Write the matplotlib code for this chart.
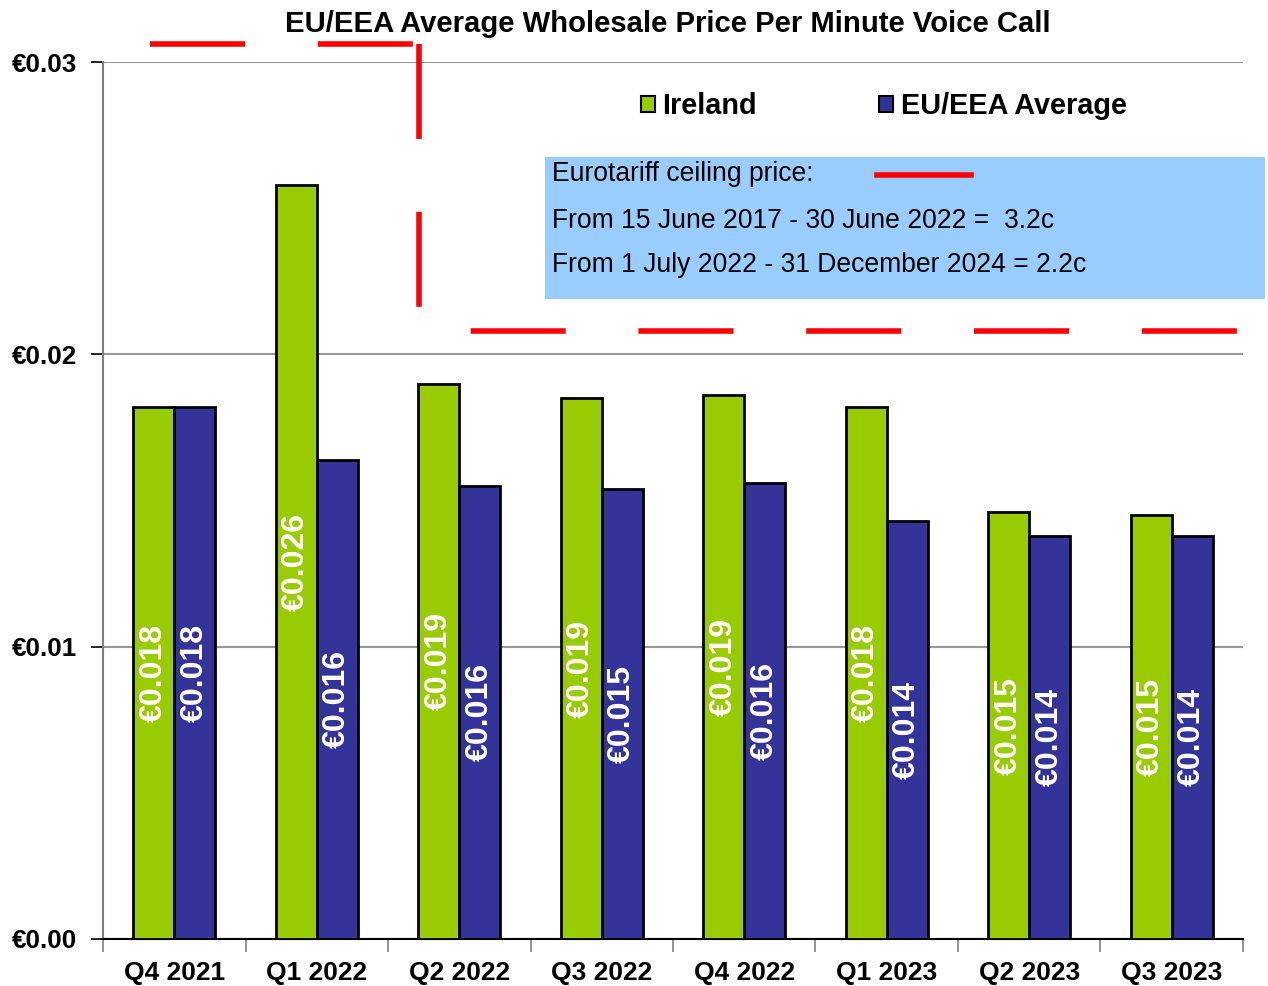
import matplotlib
matplotlib.use('Agg')
import matplotlib.pyplot as plt
import numpy as np
from matplotlib.patches import Rectangle

# data
quarters = ['Q4 2021', 'Q1 2022', 'Q2 2022', 'Q3 2022', 'Q4 2022', 'Q1 2023', 'Q2 2023', 'Q3 2023']
ireland = [0.0182, 0.0258, 0.0190, 0.0185, 0.0186, 0.0182, 0.0146, 0.0145]
eu_avg = [0.0182, 0.0164, 0.0155, 0.0154, 0.0156, 0.0143, 0.0138, 0.0138]
ireland_labels = ['€0.018', '€0.026', '€0.019', '€0.019', '€0.019', '€0.018', '€0.015', '€0.015']
eu_labels = ['€0.018', '€0.016', '€0.016', '€0.015', '€0.016', '€0.014', '€0.014', '€0.014']
# eurotariff ceiling line as drawn on the chart
ceil_old_x = [-0.17, 1.68]
ceil_old_y = 0.0306
ceil_step_x = 1.72
ceil_new_x = [1.72, 7.47]
ceil_new_y = 0.0208
y_ticks = [0.0, 0.01, 0.02, 0.03]
y_labels = ['€0.00', '€0.01', '€0.02', '€0.03']

plt.rcParams['font.family'] = ['Liberation Sans', 'DejaVu Sans']

green = '#99cc00'
blue = '#333399'

fig = plt.figure(figsize=(12.68, 9.86), dpi=100)
ax = fig.add_axes([103/1268, 1-939/986, 1140/1268, (939-62)/986])

x = np.arange(len(quarters))
w = 0.288
b1 = ax.bar(x - w/2, ireland, w, color=green, edgecolor='black', linewidth=2, zorder=3)
b2 = ax.bar(x + w/2, eu_avg, w, color=blue, edgecolor='black', linewidth=2, zorder=3)

for bars, vals, labs in ((b1, ireland, ireland_labels), (b2, eu_avg, eu_labels)):
    for r, v, lab in zip(bars, vals, labs):
        ax.text(r.get_x() + r.get_width()/2, v/2, lab, rotation=90,
                ha='center', va='center', color='white', fontsize=23,
                fontweight='bold', zorder=4)

ax.set_xlim(-0.5, len(quarters) - 0.5)
ax.set_ylim(0, 0.03)
ax.set_yticks(y_ticks)
ax.set_yticklabels(y_labels, fontsize=18.8, fontweight='bold')
ax.set_xticks(x)
ax.set_xticklabels(quarters, fontsize=19, fontweight='bold')
ax.tick_params(axis='x', length=0, pad=15.5)
ax.tick_params(axis='y', length=9, width=1.2, color='black', pad=9.5)
ax.set_xticks(np.arange(-0.5, len(quarters)), minor=True)
ax.tick_params(axis='x', which='minor', length=9, width=1.2, color='#808080')

ax.yaxis.grid(True, color='#999999', linewidth=1.5, zorder=0)
ax.set_axisbelow(True)
for s in ('top', 'right'):
    ax.spines[s].set_visible(False)
ax.spines['left'].set_color('#808080')
ax.spines['left'].set_linewidth(1.5)
ax.spines['bottom'].set_color('black')
ax.spines['bottom'].set_linewidth(1.5)

lw = 4
ax.plot(ceil_old_x, [ceil_old_y, ceil_old_y], color='red', linewidth=lw,
        linestyle=(0, (17.1, 13.1)), dash_capstyle='butt', clip_on=False, zorder=5)
ax.plot([ceil_step_x, ceil_step_x], [ceil_old_y, ceil_new_y], color='red', linewidth=lw,
        linestyle=(0, (17.1, 13.1)), dash_capstyle='butt', clip_on=False, zorder=5)
ax.plot(ceil_new_x, [ceil_new_y, ceil_new_y], color='red', linewidth=lw,
        linestyle=(20.9, (17.1, 13.1)), dash_capstyle='butt', clip_on=False, zorder=5)

fig.text(668/1268, 1-24/986, 'EU/EEA Average Wholesale Price Per Minute Voice Call',
         ha='center', va='center', fontsize=21.1, fontweight='bold')

# legend
fig.patches.append(Rectangle((641/1268, 1-112/986), 14/1268, 16/986, transform=fig.transFigure,
                             facecolor=green, edgecolor='black', linewidth=1.5))
fig.text(662/1268, 1-106/986, 'Ireland', ha='left', va='center', fontsize=20.8, fontweight='bold')
fig.patches.append(Rectangle((879/1268, 1-112/986), 14/1268, 16/986, transform=fig.transFigure,
                             facecolor=blue, edgecolor='black', linewidth=1.5))
fig.text(901/1268, 1-106/986, 'EU/EEA Average', ha='left', va='center', fontsize=20.8, fontweight='bold')

# eurotariff box
fig.patches.append(Rectangle((545/1268, 1-299/986), 720/1268, 142/986, transform=fig.transFigure,
                             facecolor='#99ccff', edgecolor='none'))
fig.text(552/1268, 1-174/986, 'Eurotariff ceiling price:', ha='left', va='center', fontsize=19.1)
fig.text(552/1268, 1-221/986, 'From 15 June 2017 - 30 June 2022 =  3.2c', ha='left', va='center', fontsize=19.1)
fig.text(552/1268, 1-265/986, 'From 1 July 2022 - 31 December 2024 = 2.2c', ha='left', va='center', fontsize=19.1)
fig.lines.append(plt.Line2D([877/1268, 971/1268], [1-175/986, 1-175/986], transform=fig.transFigure,
                            color='red', linewidth=lw))

fig.savefig('out.png', dpi=100)
